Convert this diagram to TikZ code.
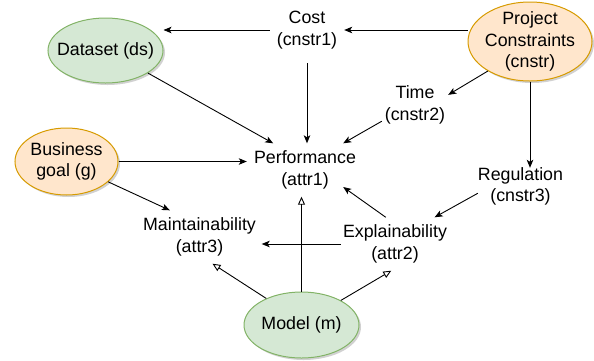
\documentclass[tikz,border=0pt]{standalone}
\usepackage{fontspec}
\setmainfont{Liberation Sans}
\usetikzlibrary{shapes.geometric,arrows.meta,shadows}
\definecolor{gfill}{HTML}{D5E8D4}
\definecolor{gline}{HTML}{82B366}
\definecolor{ofill}{HTML}{FFE6CC}
\definecolor{oline}{HTML}{D79B00}
\tikzset{
 ell/.style={ellipse, draw, line width=1pt, inner sep=-20pt, align=center,
   drop shadow={shadow xshift=2pt, shadow yshift=-2pt, fill=black, opacity=0.18}},
 greenell/.style={ell, fill=gfill, draw=gline},
 orangeell/.style={ell, fill=ofill, draw=oline},
 txt/.style={rectangle, inner sep=-20pt, align=center},
 arr/.style={draw, line width=0.9pt, -{Stealth[length=8pt,width=6.5pt,inset=2pt]}},
 oarr/.style={draw, line width=0.9pt, -{Triangle[open,length=8pt,width=7pt]}},
}
\begin{document}
\begin{tikzpicture}[x=1pt,y=-1pt, font=\fontsize{17.8}{21.5}\selectfont]
\useasboundingbox (0,0) rectangle (594,360);
\node[greenell, minimum width=115pt, minimum height=65pt] (ds) at (105.5,50.5) {Dataset (ds)};
\node[orangeell, minimum width=103pt, minimum height=67pt] (bg) at (66.5,161.5) {Business\\goal (g)};
\node[orangeell, minimum width=124pt, minimum height=79pt] (pc) at (530,41.5) {Project\\Constraints\\(cnstr)};
\node[greenell, minimum width=115pt, minimum height=66pt] (model) at (301.5,325) {Model (m)};
\node[txt, minimum width=74pt, minimum height=66pt] (cost) at (307,30) {Cost\\(cnstr1)};
\node[txt, minimum width=66pt, minimum height=38pt] (time) at (415,105) {Time\\(cnstr2)};
\node[txt, minimum width=76pt, minimum height=53pt] (perf) at (305,170) {Performance\\(attr1)};
\node[txt, minimum width=85pt, minimum height=37pt] (reg) at (520.5,186.5) {Regulation\\(cnstr3)};
\node[txt, minimum width=108pt, minimum height=53pt] (expl) at (395,244) {Explainability\\(attr2)};
\node[txt, minimum width=124pt, minimum height=53pt] (maint) at (199.5,237) {Maintainability\\(attr3)};

\draw[arr] (pc.west |- cost.east) -- (cost.east);
\draw[arr] (cost.west) -- (cost.west -| ds.east);
\draw[arr] (cost.south) -- (cost.south |- perf.north);
\draw[arr] (ds.-28.5) -- (perf.140);
\draw[arr] (pc.-145.5) -- (time.17);
\draw[arr] (time.206.6) -- (perf.north east);
\draw[arr] (pc.south) -- (pc.south |- reg.north);
\draw[arr] (bg.east) -- ([xshift=-20pt]bg.east -| perf.west);
\draw[arr] (bg.-26.3) -- (maint.138.6);
\draw[arr] (reg.189) -- (expl.34.6);
\draw[arr] (expl.109.8) -- (perf.-24.7);
\draw[arr] (expl.west) -- (expl.west -| maint.east);
\draw[oarr] (model.north) -- (model.north |- perf.south);
\draw[oarr] (model.143.5) -- (maint.-64.3);
\draw[oarr] (model.32.3) -- (expl.-98.9);
\end{tikzpicture}
\end{document}
